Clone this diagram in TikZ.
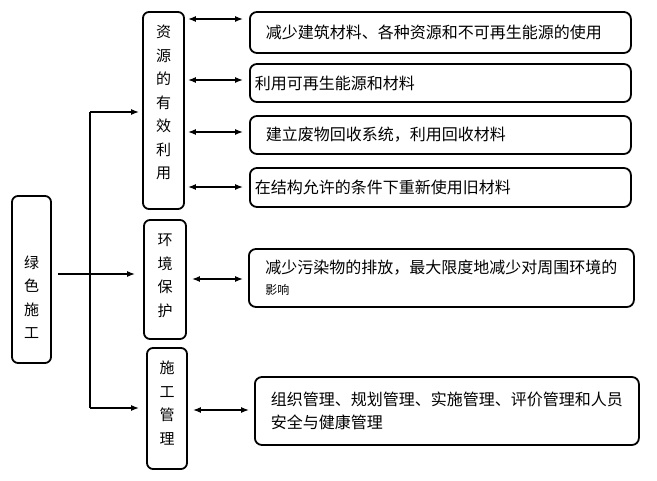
\documentclass[tikz,border=0pt]{standalone}
\usepackage{fontspec}
\setmainfont{Noto Sans CJK SC}
\usetikzlibrary{arrows.meta,positioning}
\tikzset{
  vbox/.style={draw,line width=1.8pt,rounded corners=6pt,inner sep=0pt},
  vtxt/.style={align=center,font=\fontsize{15}{23.5}\selectfont,inner sep=0pt},
  hbox/.style={draw,line width=1.8pt,rounded corners=7pt,anchor=west,align=left,
    font=\fontsize{16}{23}\selectfont,inner ysep=0pt},
  arr/.style={-{Latex[length=8pt,width=6pt]},line width=1.3pt},
  dbl/.style={{Latex[length=8pt,width=6pt]}-{Latex[length=8pt,width=6pt]},line width=1.3pt}
}
\begin{document}
\begin{tikzpicture}[x=1pt,y=-1pt]
  \useasboundingbox (0,0) rectangle (657,481);
  % left box
  \node[vbox,minimum width=39pt,minimum height=167pt] (green) at (31.5,279.5) {};
  \node[vtxt] (greentxt) at (31.5,297) {绿\\色\\施\\工};
  % middle column
  \node[vbox,minimum width=41pt,minimum height=197pt] (res) at (163.5,110.5) {};
  \node[vtxt] (restxt) at (163.5,102.5) {资\\源\\的\\有\\效\\利\\用};
  \node[vbox,minimum width=42pt,minimum height=119pt] (env) at (165,279.5) {};
  \node[vtxt] (envtxt) at (165,276) {环\\境\\保\\护};
  \node[vbox,minimum width=40pt,minimum height=121pt] (mgmt) at (167,408.5) {};
  \node[vtxt] (mgmttxt) at (167,403) {施\\工\\管\\理};
  % right column
  \node[hbox,minimum height=41pt,inner xsep=16pt,text width=349pt] (a) at (249,32.5)
    {减少建筑材料、各种资源和不可再生能源的使用};
  \node[hbox,minimum height=38pt,inner xsep=5pt,text width=371pt] (b) at (249,83)
    {利用可再生能源和材料};
  \node[hbox,minimum height=38pt,inner xsep=16pt,text width=349pt] (c) at (249,135)
    {建立废物回收系统，利用回收材料};
  \node[hbox,minimum height=39pt,inner xsep=5pt,text width=371pt] (d) at (249,187.5)
    {在结构允许的条件下重新使用旧材料};
  \node[hbox,minimum height=58pt,inner xsep=16.5pt,text width=352pt,
    font=\fontsize{16}{21}\selectfont] (e) at (248,278)
    {减少污染物的排放，最大限度地减少对周围环境的\\{\fontsize{12}{14}\selectfont 影响}};
  \node[hbox,minimum height=68pt,inner xsep=16pt,text width=352pt] (f) at (254,411)
    {组织管理、规划管理、实施管理、评价管理和人员\\安全与健康管理};
  % trunk
  \coordinate (top) at (90,112);
  \coordinate (bot) at (90,408);
  \draw[line width=1.3pt] (top) -- (bot);
  \draw[arr,shorten <=6pt,shorten >=8pt] (green.east |- 0,274) -- (env.west |- 0,274);
  \draw[arr,shorten >=3pt] (top) -- (res.west |- top);
  \draw[arr,shorten >=7pt] (bot) -- (mgmt.west |- bot);
  % double arrows
  \draw[dbl,shorten <=3pt,shorten >=6pt] (res.east |- 0,19) -- (a.west |- 0,19);
  \draw[dbl,shorten <=3pt,shorten >=6pt] (res.east |- 0,80) -- (b.west |- 0,80);
  \draw[dbl,shorten <=3pt,shorten >=6pt] (res.east |- 0,132) -- (c.west |- 0,132);
  \draw[dbl,shorten <=3pt,shorten >=6pt] (res.east |- 0,187) -- (d.west |- 0,187);
  \draw[dbl,shorten <=5pt,shorten >=5pt] (env.east |- 0,279) -- (e.west |- 0,279);
  \draw[dbl,shorten <=5pt,shorten >=5pt] (mgmt.east |- 0,410) -- (f.west |- 0,410);
\end{tikzpicture}
\end{document}
